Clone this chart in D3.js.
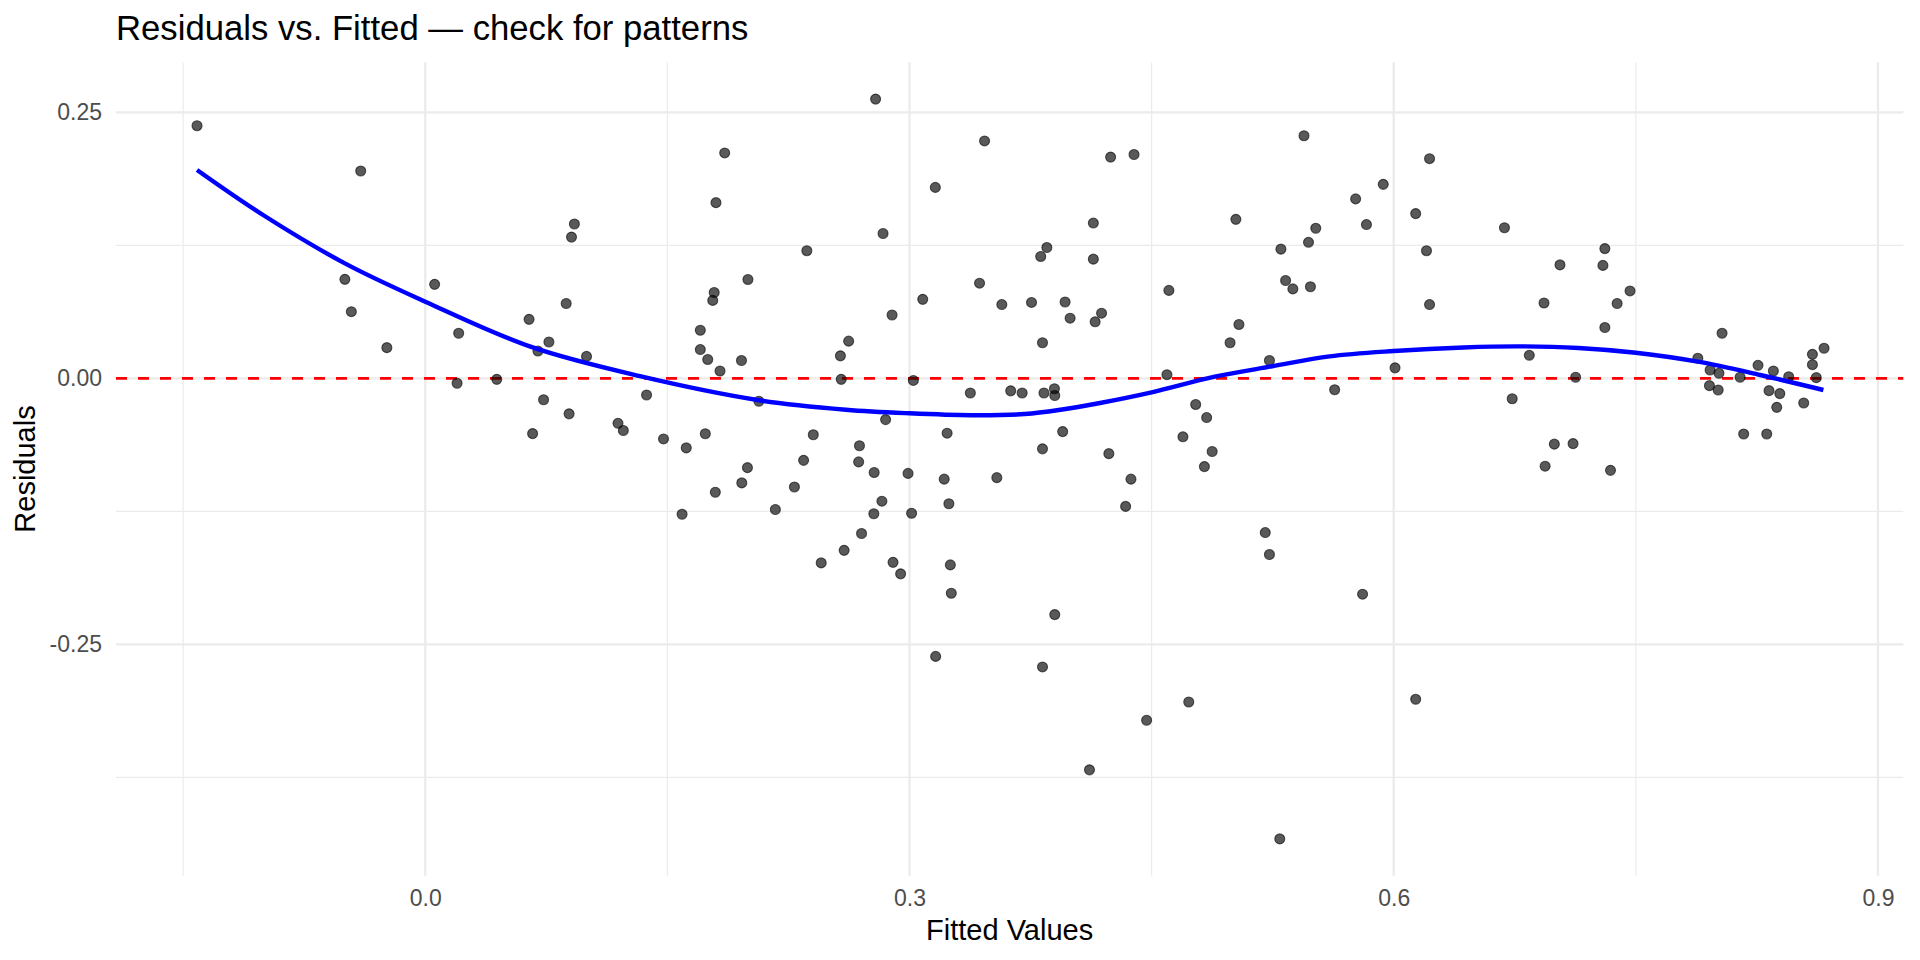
<!doctype html>
<html lang="en">
<head>
<meta charset="utf-8">
<title>Residuals vs. Fitted</title>
<style>
  body { margin: 0; background: #fff; }
  svg { display: block; font-family: "Liberation Sans", Arial, Helvetica, sans-serif; }
</style>
</head>
<body>
<svg class="chart"></svg>
<script src="https://d3js.org/d3.v7.min.js"></script>
<script>

// fitted values (x) and residuals (y)
var fittedValues = [
  -0.1414, -0.0498, -0.0458, -0.0400, -0.0238, 0.0058, 0.0207, 0.0197, 0.0443, 0.0643,
  0.0665, 0.0698, 0.0733, 0.0766, 0.0873, 0.0891, 0.0906, 0.0924, 0.0999, 0.1194,
  0.1227, 0.1371, 0.1476, 0.1591, 0.1617, 0.1704, 0.1704, 0.1735, 0.1750, 0.1790,
  0.1781, 0.1801, 0.1797, 0.1826, 0.1855, 0.1959, 0.1961, 0.1996, 0.1999, 0.2067,
  0.2169, 0.2287, 0.2344, 0.2364, 0.2404, 0.2453, 0.2572, 0.2577, 0.2595, 0.2623,
  0.2690, 0.2685, 0.2703, 0.2781, 0.2779, 0.2790, 0.2836, 0.2829, 0.2852, 0.2892,
  0.2898, 0.2945, 0.2991, 0.3013, 0.3024, 0.3082, 0.3162, 0.3160, 0.3215, 0.3233,
  0.3244, 0.3253, 0.3259, 0.3377, 0.3434, 0.3465, 0.3541, 0.3572, 0.3627, 0.3698,
  0.3756, 0.3813, 0.3824, 0.3824, 0.3824, 0.3851, 0.3833, 0.3898, 0.3900, 0.3900,
  0.3949, 0.3964, 0.3995, 0.4115, 0.4139, 0.4139, 0.4150, 0.4190, 0.4235, 0.4246,
  0.4339, 0.4372, 0.4391, 0.4469, 0.4595, 0.4607, 0.4694, 0.4730, 0.4773, 0.4827,
  0.4841, 0.4875, 0.4986, 0.5022, 0.5041, 0.5204, 0.5230, 0.5230, 0.5294, 0.5301,
  0.5330, 0.5375, 0.5444, 0.5472, 0.5484, 0.5517, 0.5634, 0.5764, 0.5807, 0.5831,
  0.5935, 0.6008, 0.6136, 0.6136, 0.6203, 0.6222, 0.6222, 0.6734, 0.6840, 0.6686,
  0.6938, 0.6931, 0.6995, 0.7030, 0.7127, 0.7111, 0.7308, 0.7296, 0.7308, 0.7343,
  0.7384, 0.7464, 0.7884, 0.8034, 0.7960, 0.8015, 0.7956, 0.8010, 0.8146, 0.8168,
  0.8257, 0.8352, 0.8325, 0.8392, 0.8373, 0.8311, 0.8447, 0.8540, 0.8594, 0.8594,
  0.8618, 0.8666
];
var residuals = [
  0.2374, 0.0930, 0.0626, 0.1948, 0.0288, 0.0883, 0.0423, -0.0047, -0.0010, 0.0554,
  -0.0520, 0.0257, -0.0202, 0.0341, 0.0703, -0.0334, 0.1327, 0.1450, 0.0206, -0.0423,
  -0.0491, -0.0157, -0.0570, -0.1278, -0.0654, 0.0452, 0.0270, -0.0521, 0.0177, 0.0806,
  0.0732, 0.1651, -0.1071, 0.0069, 0.2118, 0.0167, -0.0983, -0.0840, 0.0929, -0.0216,
  -0.1233, -0.1022, -0.0771, 0.1199, -0.0531, -0.1735, 0.0211, -0.0010, -0.1617, 0.0349,
  -0.0634, -0.0786, -0.1459, -0.0885, -0.1273, 0.2624, 0.1361, -0.1155, -0.0388, 0.0595,
  -0.1730, -0.1838, -0.0894, -0.1268, -0.0020, 0.0742, -0.2614, 0.1794, -0.0948, -0.0516,
  -0.1179, -0.1754, -0.2020, -0.0138, 0.0894, 0.2231, -0.0934, 0.0693, -0.0118, -0.0138,
  0.0713, 0.1145, -0.2713, 0.0334, -0.0663, 0.1229, -0.0138, -0.0098, -0.0162, -0.2221,
  -0.0501, 0.0717, 0.0565, -0.3680, 0.1459, 0.1120, 0.0531, 0.0612, -0.0708, 0.2079,
  -0.1204, -0.0948, 0.2103, -0.3214, 0.0034, 0.0826, -0.0550, -0.3042, -0.0246, -0.0830,
  -0.0369, -0.0688, 0.0334, 0.1494, 0.0506, -0.1450, -0.1656, 0.0167, -0.4329, 0.1214,
  0.0919, 0.0840, 0.2280, 0.1278, 0.0860, 0.1410, -0.0108, 0.1686, -0.2029, 0.1445,
  0.1823, 0.0098, -0.3017, 0.1548, 0.1199, 0.0693, 0.2064, -0.0192, 0.0216, 0.1415,
  -0.0826, 0.0708, -0.0619, 0.1066, 0.0010, -0.0614, 0.0477, 0.1061, 0.1219, -0.0865,
  0.0703, 0.0821, 0.0188, 0.0423, 0.0078, 0.0047, -0.0069, -0.0110, 0.0010, -0.0524,
  0.0122, 0.0069, -0.0116, -0.0144, -0.0273, -0.0524, 0.0015, -0.0232, 0.0225, 0.0128,
  0.0006, 0.0282
];

// smoother line
var smoothFitted = [-0.1414, -0.1000, -0.0498, 0.0000, 0.0652, 0.1330, 0.2067, 0.2606, 0.3000, 0.3381,
  0.3714, 0.3935, 0.4180, 0.4500, 0.4891, 0.5247, 0.5603, 0.6000, 0.6433, 0.6788,
  0.7144, 0.7500, 0.7884, 0.8270, 0.8662];
var smoothResid = [0.1958, 0.1530, 0.1080, 0.0720, 0.0297, 0.0020, -0.0206, -0.0295, -0.0329, -0.0347,
  -0.0336, -0.0296, -0.0232, -0.0132, 0.0015, 0.0113, 0.0206, 0.0256, 0.0290, 0.0300,
  0.0285, 0.0240, 0.0156, 0.0031, -0.0110];

var xTicks = [0.0, 0.3, 0.6, 0.9];
var xTickLabels = ["0.0", "0.3", "0.6", "0.9"];
var xMinor = [-0.15, 0.15, 0.45, 0.75];
var yTicks = [0.25, 0.0, -0.25];
var yTickLabels = ["0.25", "0.00", "-0.25"];
var yMinor = [0.125, -0.125, -0.375];

var width = 1920, height = 960;
var margin = {top: 62.3, right: 16.7, bottom: 84.3, left: 116};

var svg = d3.select(".chart")
    .attr("width", width)
    .attr("height", height);

var x = d3.scaleLinear()
    .domain([-0.1916, 0.9157])
    .range([margin.left, width - margin.right]);
var y = d3.scaleLinear()
    .domain([-0.4675, 0.2970])
    .range([height - margin.bottom, margin.top]);

// grid
var grid = svg.append("g");
grid.selectAll("line.ymin").data(yMinor).enter().append("line")
    .attr("x1", x.range()[0]).attr("x2", x.range()[1])
    .attr("y1", function(d) { return y(d); }).attr("y2", function(d) { return y(d); })
    .attr("stroke", "#ebebeb").attr("stroke-width", 1.2);
grid.selectAll("line.xmin").data(xMinor).enter().append("line")
    .attr("y1", y.range()[0]).attr("y2", y.range()[1])
    .attr("x1", function(d) { return x(d); }).attr("x2", function(d) { return x(d); })
    .attr("stroke", "#ebebeb").attr("stroke-width", 1.2);
grid.selectAll("line.ymaj").data(yTicks).enter().append("line")
    .attr("x1", x.range()[0]).attr("x2", x.range()[1])
    .attr("y1", function(d) { return y(d); }).attr("y2", function(d) { return y(d); })
    .attr("stroke", "#ebebeb").attr("stroke-width", 2.3);
grid.selectAll("line.xmaj").data(xTicks).enter().append("line")
    .attr("y1", y.range()[0]).attr("y2", y.range()[1])
    .attr("x1", function(d) { return x(d); }).attr("x2", function(d) { return x(d); })
    .attr("stroke", "#ebebeb").attr("stroke-width", 2.3);

// axes (text only, like theme_minimal)
var xAxis = svg.append("g")
    .attr("transform", "translate(0," + (height - margin.bottom) + ")")
    .call(d3.axisBottom(x).tickValues(xTicks).tickSize(0).tickPadding(30)
        .tickFormat(function(d, i) { return xTickLabels[i]; }));
var yAxis = svg.append("g")
    .attr("transform", "translate(" + margin.left + ",0)")
    .call(d3.axisLeft(y).tickValues(yTicks).tickSize(0).tickPadding(14)
        .tickFormat(function(d, i) { return yTickLabels[i]; }));
svg.selectAll(".domain").remove();
svg.selectAll(".tick text")
    .attr("fill", "#4d4d4d")
    .style("font-size", "23px")
    .style("font-family", "'Liberation Sans', Arial, Helvetica, sans-serif");
xAxis.selectAll(".tick text").attr("dy", null).attr("y", 30);

// zero reference line
svg.append("line")
    .attr("x1", x.range()[0]).attr("x2", x.range()[1])
    .attr("y1", y(0)).attr("y2", y(0))
    .attr("stroke", "#ff0000").attr("stroke-width", 2.7)
    .attr("stroke-dasharray", "11,11");

// points
var pts = fittedValues.map(function(d, i) { return {f: d, r: residuals[i]}; });
svg.append("g").selectAll("circle")
    .data(pts)
  .enter().append("circle")
    .attr("cx", function(d) { return x(d.f); })
    .attr("cy", function(d) { return y(d.r); })
    .attr("r", 5)
    .attr("fill", "#000").attr("fill-opacity", 0.65)
    .attr("stroke", "#000").attr("stroke-opacity", 0.6).attr("stroke-width", 1.1);

// smoother
var line = d3.line()
    .x(function(d, i) { return x(smoothFitted[i]); })
    .y(function(d) { return y(d); })
    .curve(d3.curveCatmullRom.alpha(0.5));
svg.append("path")
    .attr("d", line(smoothResid))
    .attr("fill", "none")
    .attr("stroke", "#0000ff")
    .attr("stroke-width", 4.4);

// titles
svg.append("text")
    .attr("x", margin.left).attr("y", 40)
    .attr("fill", "#000")
    .style("font-size", "34.7px")
    .text("Residuals vs. Fitted \u2014 check for patterns");
svg.append("text")
    .attr("x", (x.range()[0] + x.range()[1]) / 2).attr("y", 940)
    .attr("text-anchor", "middle")
    .attr("fill", "#000")
    .style("font-size", "29px")
    .text("Fitted Values");
svg.append("text")
    .attr("transform", "translate(35," + ((y.range()[0] + y.range()[1]) / 2) + ") rotate(-90)")
    .attr("text-anchor", "middle")
    .attr("fill", "#000")
    .style("font-size", "29px")
    .text("Residuals");

</script>
</body>
</html>
